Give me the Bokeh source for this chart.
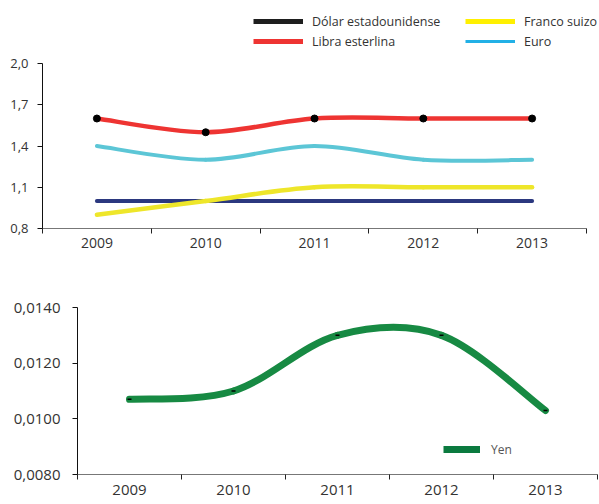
import numpy as np
from bokeh.plotting import figure
from bokeh.models import FixedTicker, CustomJSTickFormatter, Legend, LegendItem
from bokeh.embed import file_html
from bokeh.resources import INLINE

# ---- data ----
years = ["2009", "2010", "2011", "2012", "2013"]
dolar = [1.0, 1.0, 1.0, 1.0, 1.0]
libra = [1.6, 1.5, 1.6, 1.6, 1.6]
franco = [0.9, 1.0, 1.1, 1.1, 1.1]
euro = [1.4, 1.3, 1.4, 1.3, 1.3]
yen = [0.0107, 0.0110, 0.0130, 0.0130, 0.0103]
top_ticks = [0.8, 1.1, 1.4, 1.7, 2.0]
bottom_ticks = [0.0080, 0.0100, 0.0120, 0.0140]

xs = list(range(1, len(years) + 1))
bounds = [x - 0.5 for x in xs] + [xs[-1] + 0.5]
labels = {x: y for x, y in zip(xs, years)}

FONT = "Open Sans"
TXT = "#333333"


def smooth(x, y):
    """Bezier segments (Catmull-Rom style smoothing, like a spreadsheet's smoothed line)."""
    x = np.asarray(x, float)
    y = np.asarray(y, float)
    xp = np.concatenate([[x[0]], x, [x[-1]]])
    yp = np.concatenate([[y[0]], y, [y[-1]]])
    d = dict(x0=[], y0=[], x1=[], y1=[], cx0=[], cy0=[], cx1=[], cy1=[])
    for i in range(len(x) - 1):
        a, b, c, e = i, i + 1, i + 2, i + 3
        d["x0"].append(xp[b]); d["y0"].append(yp[b])
        d["x1"].append(xp[c]); d["y1"].append(yp[c])
        d["cx0"].append(xp[b] + (xp[c] - xp[a]) / 6.0)
        d["cy0"].append(yp[b] + (yp[c] - yp[a]) / 6.0)
        d["cx1"].append(xp[c] - (xp[e] - xp[b]) / 6.0)
        d["cy1"].append(yp[c] - (yp[e] - yp[b]) / 6.0)
    return d


def style_axes(p, yticks, decimals, yfont, xfont, ystandoff, xstandoff):
    p.outline_line_color = None
    p.xgrid.visible = False
    p.ygrid.visible = False
    xa = p.xaxis[0]
    xa.ticker = FixedTicker(ticks=xs, minor_ticks=bounds)
    xa.bounds = (bounds[0], bounds[-1])
    xa.major_label_overrides = labels
    xa.major_tick_line_color = None
    xa.major_tick_out = 5
    xa.major_tick_in = 0
    xa.minor_tick_out = 5
    xa.minor_tick_in = 0
    xa.minor_tick_line_color = "#222222"
    xa.axis_line_color = "#777777"
    xa.major_label_standoff = xstandoff
    xa.major_label_text_font = FONT
    xa.major_label_text_font_size = xfont
    xa.major_label_text_color = TXT
    ya = p.yaxis[0]
    ya.ticker = FixedTicker(ticks=yticks)
    ya.bounds = (yticks[0], yticks[-1])
    ya.formatter = CustomJSTickFormatter(
        code="return tick.toFixed(%d).replace('.', ',');" % decimals)
    ya.major_tick_out = 5
    ya.major_tick_in = 0
    ya.minor_tick_line_color = None
    ya.axis_line_color = "#111111"
    ya.major_tick_line_color = "#111111"
    ya.major_label_standoff = ystandoff
    ya.major_label_text_font = FONT
    ya.major_label_text_font_size = yfont
    ya.major_label_text_color = TXT


def make_legend(items, loc, gw, font_size="12.5px", color=TXT, standoff=9):
    return Legend(items=items, location=loc, padding=0, margin=0, spacing=0,
                  border_line_color=None, background_fill_alpha=0,
                  glyph_width=gw, glyph_height=20, label_height=20,
                  label_standoff=standoff, label_text_font=FONT,
                  label_text_font_size=font_size, label_text_color=color)


def swatch(p, vals, color, width):
    # one-point line: draws nothing itself, only provides the legend swatch style
    return p.line(x=xs[:1], y=vals[:1], line_color=color, line_width=width)


# ---- top chart (frame reaches the top and right edges so the legend sits inside it) ----
TOP_W, TOP_H = 599, 256
TOP_LEFT = 42               # px, y-axis position
TOP_FRAME_H = 228           # px, frame from canvas top to x-axis
TOP_AXIS_PX = 165           # px spanned by the y-axis ticks
TOP_XAXIS_PX = 544          # px spanned by the x-axis
frame_w = TOP_W - TOP_LEFT
y_top_end = top_ticks[-1] + (TOP_FRAME_H - TOP_AXIS_PX) * (top_ticks[-1] - top_ticks[0]) / TOP_AXIS_PX
x_top_end = bounds[-1] + (frame_w - TOP_XAXIS_PX) * (bounds[-1] - bounds[0]) / TOP_XAXIS_PX

p1 = figure(width=TOP_W, height=TOP_H, x_range=(bounds[0], x_top_end),
            y_range=(top_ticks[0], y_top_end), output_backend="svg",
            toolbar_location=None, min_border_left=TOP_LEFT, min_border_right=0,
            min_border_top=0, min_border_bottom=TOP_H - TOP_FRAME_H)
style_axes(p1, top_ticks, 1, "13px", "14px", 9, 4)

series = [(dolar, "#2B387F", 4), (libra, "#EE3432", 4.5),
          (franco, "#EEE62A", 4.5), (euro, "#5CC6D6", 4)]
for vals, col, lw in series:
    p1.bezier(source=smooth(xs, vals), x0="x0", y0="y0", x1="x1", y1="y1",
              cx0="cx0", cy0="cy0", cx1="cx1", cy1="cy1",
              line_color=col, line_width=lw, line_cap="round")
p1.scatter(xs, libra, size=7, color="black")

r_dol = swatch(p1, dolar, "#1E1E1E", 5)
r_lib = swatch(p1, libra, "#EE3432", 5)
r_fra = swatch(p1, franco, "#FFF000", 5)
r_eur = swatch(p1, euro, "#22B0E6", 3)
p1.add_layout(make_legend([LegendItem(label="Dólar estadounidense", renderers=[r_dol]),
                           LegendItem(label="Libra esterlina", renderers=[r_lib])],
                          (211, 177), 50))
p1.add_layout(make_legend([LegendItem(label="Franco suizo", renderers=[r_fra]),
                           LegendItem(label="Euro", renderers=[r_eur])],
                          (423, 177), 50))

# ---- bottom chart ----
p2 = figure(width=598, height=248, x_range=(bounds[0], bounds[-1]),
            y_range=(bottom_ticks[0], bottom_ticks[-1]), output_backend="svg",
            toolbar_location=None, min_border_left=77, min_border_right=1,
            min_border_top=51, min_border_bottom=30)
style_axes(p2, bottom_ticks, 4, "15px", "15px", 12, 5)
p2.bezier(source=smooth(xs, yen), x0="x0", y0="y0", x1="x1", y1="y1",
          cx0="cx0", cy0="cy0", cx1="cx1", cy1="cy1",
          line_color="#178A43", line_width=7, line_cap="round")
p2.scatter(xs, yen, marker="dash", size=4, line_width=1.5, line_color="black")
r_yen = swatch(p2, yen, "#0B7A3F", 7)
p2.add_layout(make_legend([LegendItem(label="Yen", renderers=[r_yen])],
                          (366, 15), 37, font_size="12px", color="#555555", standoff=11))

open("out.html", "w").write(file_html([p1, p2], INLINE))
